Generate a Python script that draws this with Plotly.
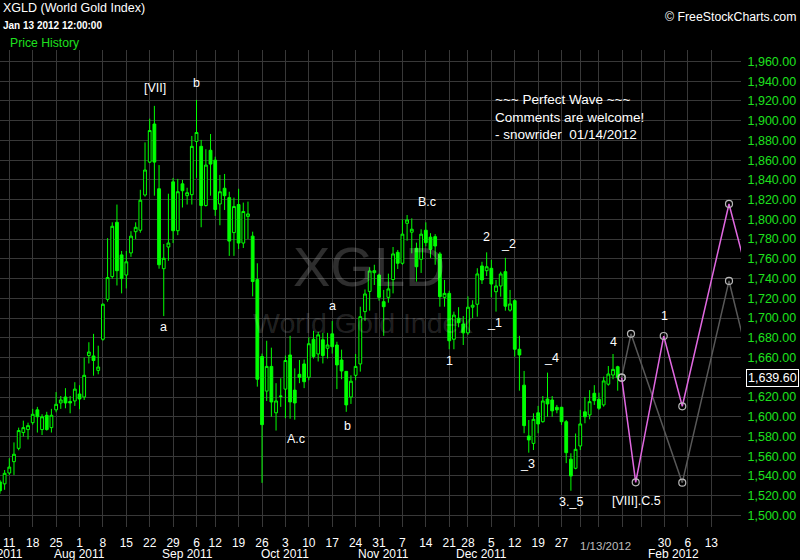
import pandas as pd
import plotly.graph_objects as go

# ---------------- data ----------------
jul = [7, 8, 11, 12, 13, 14, 15, 18, 19, 20, 21, 22, 25, 26, 27, 28, 29]
aug = [1, 2, 3, 4, 5, 8, 9, 10, 11, 12, 15, 16, 17, 18, 19, 22, 23, 24, 25, 26, 29, 30, 31]
sep = [1, 2, 6, 7, 8, 9, 12, 13, 14, 15, 16, 19, 20, 21, 22, 23, 26, 27, 28, 29, 30]
octo = [3, 4, 5, 6, 7, 10, 11, 12, 13, 14, 17, 18, 19, 20, 21, 24, 25, 26, 27, 28, 31]
nov = [1, 2, 3, 4, 7, 8, 9, 10, 11, 14, 15, 16, 17, 18, 21, 22, 23, 25, 28, 29, 30]
dec = [1, 2, 5, 6, 7, 8, 9, 12, 13, 14, 15, 16, 19, 20, 21, 22, 23, 27, 28, 29, 30]
jan = [3, 4, 5, 6, 9, 10, 11, 12, 13]
dates = (["2011-07-%02d" % d for d in jul] + ["2011-08-%02d" % d for d in aug]
         + ["2011-09-%02d" % d for d in sep] + ["2011-10-%02d" % d for d in octo]
         + ["2011-11-%02d" % d for d in nov] + ["2011-12-%02d" % d for d in dec]
         + ["2012-01-%02d" % d for d in jan])

opens = [1534, 1532, 1543, 1554.5, 1568, 1584, 1587, 1594, 1607, 1587, 1601.5, 1589, 1607, 1614, 1620, 1615.5, 1616,
         1623, 1620, 1662, 1661.6, 1647, 1678.5, 1719, 1742, 1797, 1764, 1743.6, 1766, 1787.5, 1789, 1824.7, 1858, 1896.6, 1831, 1750, 1772, 1838, 1788.5, 1836,
         1824, 1825, 1879, 1874, 1814, 1870, 1860, 1815.6, 1831.5, 1822, 1786.6, 1815, 1776, 1803, 1783, 1739, 1661, 1626, 1651, 1604, 1621,
         1628, 1662.6, 1627, 1643, 1653.5, 1640, 1678.5, 1663.6, 1678, 1669.4, 1684, 1672.7, 1657.5, 1646, 1620, 1642, 1653.5, 1706.5, 1727, 1746, 1743.6,
         1716.6, 1721, 1739, 1766.6, 1755.5, 1796, 1787, 1770.7, 1759.6, 1789, 1782, 1782.5, 1765, 1721, 1725, 1678.5, 1699.8, 1694, 1685, 1711, 1714,
         1752.8, 1748, 1750.4, 1726.7, 1732.5, 1747, 1708, 1717.6, 1668.4, 1632, 1580.5, 1573, 1604, 1595, 1618, 1617, 1609.6, 1609.6, 1595, 1557, 1547.8,
         1570.4, 1605, 1601.8, 1623.8, 1617.7, 1612, 1633, 1642.3, 1650.7]
highs = [1536, 1546, 1558, 1574, 1589, 1596, 1594, 1608, 1610, 1602.5, 1605, 1608, 1625, 1621, 1629, 1621, 1635,
         1632, 1660, 1675.5, 1684, 1672, 1715, 1781, 1797, 1815, 1768, 1768, 1788, 1797, 1830, 1878, 1902, 1915, 1855, 1775, 1826, 1842, 1841, 1840,
         1832, 1884.5, 1921, 1880.5, 1871, 1886.5, 1863.5, 1845, 1846, 1828, 1822, 1831, 1817, 1818, 1787.5, 1755.5, 1664, 1677, 1670, 1634, 1639,
         1662, 1682, 1649, 1657.5, 1658, 1680.5, 1687, 1686, 1685, 1685, 1697, 1676, 1668, 1646.4, 1642, 1663.6, 1711.5, 1729, 1751.5, 1754, 1745,
         1728.5, 1745, 1772, 1769, 1800, 1804.4, 1801, 1776.4, 1790, 1797, 1786, 1785, 1767, 1738.6, 1727.7, 1706.5, 1711, 1702, 1722, 1718, 1750.5,
         1757, 1766.6, 1759, 1738.6, 1747, 1761, 1728.5, 1719, 1682, 1646.4, 1596.7, 1603.5, 1611, 1621, 1644.7, 1621, 1612, 1610, 1596.7, 1563, 1583,
         1607, 1620, 1627, 1632, 1624.4, 1640.6, 1651.4, 1663.6, 1651.7]
lows = [1522, 1526, 1541, 1541, 1566, 1580, 1577, 1592, 1584, 1581.5, 1586, 1584, 1604.5, 1608, 1608.6, 1603.5, 1611,
        1607.6, 1617, 1654, 1641.6, 1643, 1677, 1716.6, 1740, 1733, 1725, 1730, 1762, 1780, 1786.5, 1823, 1857, 1824, 1750, 1702, 1758, 1776, 1784, 1812,
        1815, 1815, 1842, 1792, 1813, 1824, 1803.5, 1794, 1809.5, 1763, 1763, 1770, 1771, 1780, 1722, 1630.5, 1533, 1616, 1600, 1586, 1610,
        1598.5, 1598, 1597, 1634, 1629, 1637, 1659, 1656, 1654, 1659, 1664, 1628, 1638, 1605, 1613, 1637, 1645.7, 1697, 1707.5, 1733.5, 1717.6,
        1682, 1715.6, 1725, 1749.7, 1754, 1778.4, 1765.6, 1737, 1745.7, 1772.7, 1761, 1754, 1711.5, 1711.5, 1668.4, 1668.4, 1690.7, 1672.7, 1683, 1700, 1701.4,
        1734.5, 1742.6, 1721, 1706.5, 1721.7, 1707.5, 1706.5, 1661, 1626.4, 1583.3, 1563.6, 1566.3, 1583.3, 1594, 1600, 1600, 1603.5, 1591.7, 1553, 1525, 1546.8,
        1566.3, 1593.4, 1597.4, 1612, 1607, 1610.2, 1631.5, 1638, 1626.4]
closes = [1525, 1542.7, 1549, 1562, 1586, 1589, 1591, 1602.5, 1600, 1600, 1587, 1601.5, 1612.6, 1617, 1614, 1614, 1628,
          1618, 1642, 1665.6, 1657, 1650.4, 1714, 1741, 1793, 1748, 1740, 1757, 1783, 1792, 1819.4, 1850, 1890, 1858, 1754, 1760.6, 1776, 1788.5, 1828, 1829,
          1827, 1874, 1888, 1814, 1855, 1856, 1810, 1828, 1824, 1778, 1813, 1776, 1808, 1805.5, 1737, 1638, 1592, 1651, 1615, 1616, 1620.7,
          1657, 1615, 1614, 1640, 1635.5, 1674, 1661, 1683, 1662, 1672.7, 1671, 1652.5, 1646.4, 1612, 1636, 1651, 1701.4, 1724.4, 1747.7, 1748, 1721,
          1711.5, 1729.5, 1765, 1755.5, 1785, 1799.4, 1790, 1752, 1785, 1776.4, 1769.7, 1773, 1721.7, 1725, 1677, 1703, 1695.3, 1685, 1711, 1713, 1744.7,
          1738.6, 1752, 1734.5, 1732.5, 1744.7, 1712, 1714.3, 1668.4, 1662.6, 1591, 1576.5, 1597.4, 1592.7, 1616, 1613, 1606, 1607, 1595, 1563.6, 1540, 1567,
          1592.7, 1600, 1615.3, 1616.3, 1608.6, 1636.3, 1643.3, 1648, 1639.6]

holidays = ["2011-09-05", "2011-11-24", "2011-12-26", "2012-01-02", "2012-01-16", "2012-02-20"]

tick_dates = ["2011-07-11", "2011-07-18", "2011-07-25", "2011-08-01", "2011-08-08", "2011-08-15", "2011-08-22",
              "2011-08-29", "2011-09-06", "2011-09-12", "2011-09-19", "2011-09-26", "2011-10-03", "2011-10-10",
              "2011-10-17", "2011-10-24", "2011-10-31", "2011-11-07", "2011-11-14", "2011-11-21", "2011-11-28",
              "2011-12-05", "2011-12-12", "2011-12-19", "2011-12-27", "2012-01-03", "2012-01-09", "2012-01-17",
              "2012-01-23", "2012-01-30", "2012-02-06", "2012-02-13"]
tick_labels = ["11", "18", "25", "1", "8", "15", "22", "29", "6", "12", "19", "26", "3", "10", "17", "24", "31",
               "7", "14", "21", "28", "5", "12", "19", "27", "", "", "", "", "30", "6", "13"]

month_labels = ["Aug 2011", "Sep 2011", "Oct 2011", "Nov 2011", "Dec 2011", "Feb 2012"]
month_dates = ["2011-08-01", "2011-09-01", "2011-10-03", "2011-11-01", "2011-12-01", "2012-02-01"]

wave_text = ["[VII]", "b", "a", "A.c", "a", "b", "B.c", "1", "2", "_2", "_1", "_4", "_3", "4", "3._5",
             "[VIII].C.5", "1"]
wave_time = ["2011-08-23 03:00", "2011-09-06", "2011-08-25", "2011-10-05 06:00", "2011-10-17", "2011-10-20 04:00",
             "2011-11-14 06:00", "2011-11-21", "2011-12-02", "2011-12-08 17:00", "2011-12-05 14:00",
             "2011-12-21 18:00", "2011-12-14 18:00", "2012-01-12", "2011-12-29", "2012-01-20", "2012-01-30"]
wave_price = [1933, 1938, 1691, 1577.5, 1712, 1590.7, 1817.6, 1656.5, 1782, 1775, 1695, 1659.6, 1552, 1676,
              1513.6, 1514.6, 1702]

pink_time = ["2012-01-13 20:24", "2012-01-19 20:24", "2012-01-27 20:00", "2012-02-02 19:12", "2012-02-16 18:45",
             "2012-02-24 00:00"]
pink_price = [1639.6, 1533.6, 1681.8, 1610.6, 1815.6, 1739]
gray_time = ["2012-01-13 20:24", "2012-01-18 20:10", "2012-02-02 19:12", "2012-02-16 18:45", "2012-02-24 00:00"]
gray_price = [1639.6, 1684, 1533.2, 1737.6, 1656]

last_price = 1639.60

# ---------------- trading-day axis ----------------
cal = [d for d in pd.bdate_range("2011-07-07", "2012-03-09") if d.strftime("%Y-%m-%d") not in holidays]
pos = {d.strftime("%Y-%m-%d"): i for i, d in enumerate(cal)}


def xpos(s):
    t = pd.Timestamp(s)
    return pos[t.strftime("%Y-%m-%d")] + (t - t.normalize()).total_seconds() / 86400.0


xs = [xpos(d) for d in dates]

FONT = "Liberation Sans, Arial, sans-serif"
GREEN = "#00ff00"
GRID = "#383838"

fig = go.Figure()

fig.add_trace(go.Candlestick(
    x=xs, open=opens, high=highs, low=lows, close=closes,
    increasing=dict(line=dict(color=GREEN, width=1), fillcolor="#000000"),
    decreasing=dict(line=dict(color=GREEN, width=1), fillcolor=GREEN),
    whiskerwidth=0, hoverinfo="skip", showlegend=False,
))

fig.add_trace(go.Scatter(
    x=[xpos(t) for t in gray_time], y=gray_price, mode="lines+markers",
    line=dict(color="#585858", width=1.5),
    marker=dict(symbol="circle-open", size=7, color="#b8b8b8", line=dict(width=1.2)),
    hoverinfo="skip", showlegend=False,
))
fig.add_trace(go.Scatter(
    x=[xpos(t) for t in pink_time], y=pink_price, mode="lines+markers",
    line=dict(color="#e068e0", width=1.5),
    marker=dict(symbol="circle-open", size=7, color="#b8b8b8", line=dict(width=1.2)),
    hoverinfo="skip", showlegend=False,
))

ann = []
# watermark
ann.append(dict(text="XGLD", xref="paper", yref="paper", x=0.498, y=0.547, showarrow=False,
                font=dict(family="Liberation Sans Narrow, Liberation Sans, sans-serif", size=56,
                          color="rgba(255,255,255,0.18)")))
ann.append(dict(text="World Gold Index", xref="paper", yref="paper", x=0.49, y=0.428, showarrow=False,
                font=dict(family=FONT, size=28.5, color="rgba(255,255,255,0.15)")))
# wave labels
for t, tm, p in zip(wave_text, wave_time, wave_price):
    ann.append(dict(text=t, x=xpos(tm), y=p, xref="x", yref="y", showarrow=False,
                    font=dict(family=FONT, size=12.5, color="white")))
# month labels
ann.append(dict(text="Jul 2011", xref="paper", yref="paper", x=0, y=-0.0565, showarrow=False,
                xanchor="center", yanchor="middle", font=dict(family=FONT, size=12, color="white")))
for t, d in zip(month_labels, month_dates):
    ann.append(dict(text=t, x=xpos(d), xref="x", yref="paper", y=-0.0565, showarrow=False,
                    yanchor="middle", font=dict(family=FONT, size=12, color="white")))
ann.append(dict(text="1/13/2012", x=xpos("2012-01-13"), xshift=-12, xref="x", yref="paper", y=-0.040,
                showarrow=False, yanchor="middle", font=dict(family=FONT, size=11.5, color="#bdbdbd")))
# header
ann.append(dict(text="XGLD (World Gold Index)", xref="paper", yref="paper", x=0.002, y=1.0874,
                xanchor="left", yanchor="middle", showarrow=False,
                font=dict(family=FONT, size=12.5, color="white")))
ann.append(dict(text="<b>Jan 13 2012 12:00:00</b>", xref="paper", yref="paper", x=0.002, y=1.0524,
                xanchor="left", yanchor="middle", showarrow=False,
                font=dict(family=FONT, size=10, color="white")))
ann.append(dict(text="Price History", xref="paper", yref="paper", x=0.0112, y=1.014,
                xanchor="left", yanchor="middle", showarrow=False,
                font=dict(family=FONT, size=12.2, color="#1ee01e")))
ann.append(dict(text="© FreeStockCharts.com", xref="paper", yref="paper", x=1.0773, y=1.0698,
                xanchor="right", yanchor="middle", showarrow=False,
                font=dict(family=FONT, size=12.3, color="white")))
ann.append(dict(text="~~~ Perfect Wave ~~~<br>Comments are welcome!<br>- snowrider  01/14/2012",
                xref="paper", yref="paper", x=0.6657, y=0.8587, xanchor="left", yanchor="middle",
                align="left", showarrow=False, font=dict(family=FONT, size=13.5, color="white")))
# last price box
ann.append(dict(text="1,639.60", xref="paper", yref="y", x=1.0, y=last_price, xanchor="left", xshift=5,
                yanchor="middle", showarrow=False, bgcolor="black", bordercolor="white", borderwidth=1,
                borderpad=1, font=dict(family=FONT, size=12.5, color="white")))

x_left = xpos("2011-07-11") - 9.3 / 4.68
x_right = xpos("2011-07-11") + (741 - 9.3) / 4.68

fig.update_layout(
    width=800, height=560,
    margin=dict(l=0, r=59, t=50, b=33),
    paper_bgcolor="black", plot_bgcolor="black",
    showlegend=False, hovermode=False, boxgap=0.15,
    xaxis=dict(range=[x_left, x_right], tickmode="array",
               tickvals=[xpos(d) for d in tick_dates], ticktext=tick_labels,
               showgrid=True, gridcolor=GRID, gridwidth=1, zeroline=False, showline=False,
               ticks="outside", ticklen=5, tickcolor="black",
               tickfont=dict(family=FONT, size=12, color="white"),
               rangeslider=dict(visible=False), fixedrange=True),
    yaxis=dict(side="right", range=[1488.3, 1971.6], tick0=1500, dtick=20, tickformat=",.2f",
               showgrid=True, gridcolor=GRID, gridwidth=1, zeroline=False, showline=False,
               ticks="outside", ticklen=3, tickcolor="black",
               tickfont=dict(family=FONT, size=12.5, color="#1ee01e"), fixedrange=True),
    annotations=ann,
)

fig.write_html("out.html", config={"displayModeBar": False},
               post_script="document.body.style.margin='0';document.body.style.background='black';")
